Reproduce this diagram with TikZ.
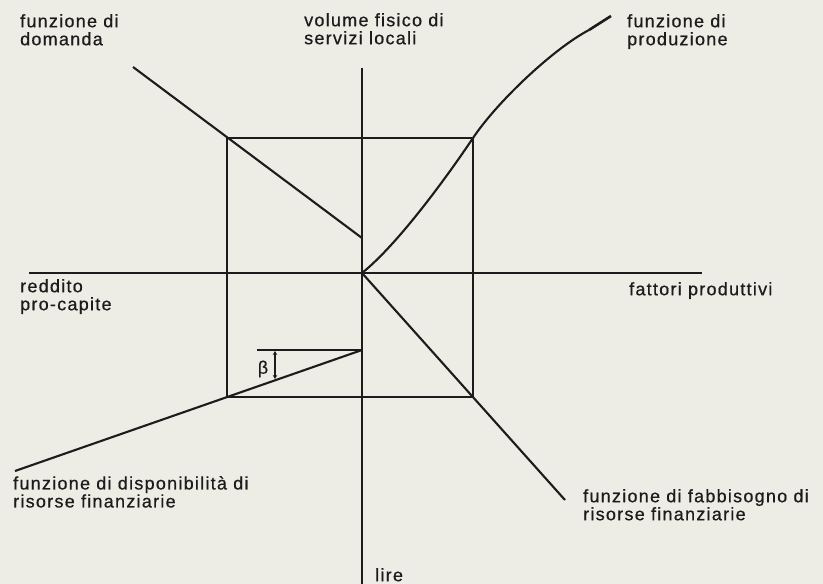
\documentclass[tikz,border=0pt]{standalone}
\usepackage{fontspec}
\setmainfont[LetterSpace=7,FakeBold=0.6]{Liberation Sans}
\usetikzlibrary{arrows.meta}

\definecolor{paper}{RGB}{237,236,229}
\definecolor{ink}{RGB}{28,28,28}

\begin{document}
\begin{tikzpicture}[x=1pt,y=-1pt,>=Stealth]
\tikzset{
  ax/.style={line width=2.3pt, ink},
  fn/.style={line width=2.1pt, ink, line join=round},
  lbl/.style={anchor=north west, inner sep=0pt, align=left, text=ink,
              font=\fontsize{18}{18}\selectfont},
  betamark/.style={<->, line width=1.2pt, ink, >={Stealth[length=4pt,width=4.5pt]}}
}
\fill[paper] (0,0) rectangle (823,584);
\useasboundingbox (0,0) rectangle (823,584);
% ---------- axes ----------
\coordinate (O) at (362,273);
\coordinate (yt) at (362,68);
\coordinate (yb) at (362,584);
\coordinate (xl) at (29,273);
\coordinate (xr) at (702,273);
\draw[ax] (yt) -- (yb);
\draw[ax] (xl) -- (xr);
% ---------- equilibrium rectangle ----------
\coordinate (A) at (227,138);
\coordinate (B) at (473,138);
\coordinate (C) at (473,397);
\coordinate (D) at (227,397);
\draw[ax] (A) -- (B) -- (C) -- (D) -- cycle;
% ---------- the four functions ----------
\coordinate (dm0) at (133,67);
\coordinate (dm1) at (362,238);
\draw[fn] (dm0) -- (dm1);
\coordinate (pr0) at (589,30);
\coordinate (pr1) at (611,16);
\draw[fn] (O) .. controls (402,241) and (457,162) .. (B)
              .. controls (497,102) and (553,49) .. (pr0);
\draw[ax, line width=2.6pt] (pr0) -- (pr1);
\coordinate (fb1) at (565,500);
\draw[fn] (O) -- (fb1);
\coordinate (dp0) at (15,471);
\coordinate (dp1) at (362,350);
\draw[fn] (dp0) -- (dp1);
% ---------- angle beta ----------
\coordinate (b0) at (257,350);
\coordinate (b1) at (275,351);
\coordinate (b2) at (275,379);
\draw[fn] (b0) -- (dp1);
\draw[betamark] (b1) -- (b2);
\node[lbl, anchor=center] (beta) at (263,369) {β};
% ---------- labels ----------
\node[lbl] (dom) at (20,14) {funzione di\\domanda};
\node[lbl] (vol) at (304,13) {volume fisico di\\servizi locali};
\node[lbl] (prod) at (627,14) {funzione di\\produzione};
\node[lbl] (red) at (20,279) {reddito\\pro-capite};
\node[lbl] (fat) at (629,282) {fattori produttivi};
\node[lbl] (disp) at (13,476) {funzione di disponibilità di\\risorse finanziarie};
\node[lbl] (fabb) at (583,489) {funzione di fabbisogno di\\risorse finanziarie};
\node[lbl] (lire) at (375,568) {lire};
\end{tikzpicture}
\end{document}
